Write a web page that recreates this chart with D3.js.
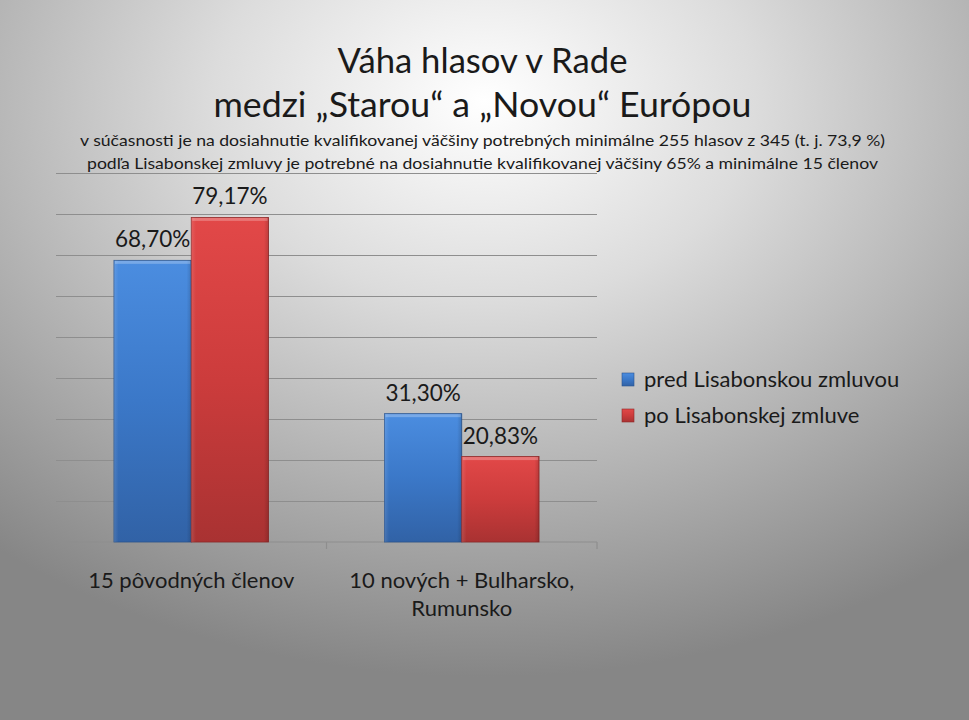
<!DOCTYPE html>
<html><head><meta charset="utf-8">
<script src="https://cdn.jsdelivr.net/npm/d3@7"></script>
<style>html,body{margin:0;padding:0;overflow:hidden;background:#999}</style>
</head><body>
<svg id="chart" width="969" height="720"></svg>
<script>
const categories = [["15 pôvodných členov"], ["10 nových + Bulharsko,", "Rumunsko"]];
const seriesNames = ["pred Lisabonskou zmluvou", "po Lisabonskej zmluve"];
const seriesPred = [68.70, 31.30];
const seriesPo = [79.17, 20.83];
const valueLabelsPred = ["68,70%", "31,30%"];
const valueLabelsPo = ["79,17%", "20,83%"];
const yTicks = [0, 10, 20, 30, 40, 50, 60, 70, 80, 90];
const titleLines = ["Váha hlasov v Rade", "medzi „Starou“ a „Novou“ Európou"];
const subtitleLines = [
  "v súčasnosti je na dosiahnutie kvalifikovanej väčšiny potrebných minimálne 255 hlasov z 345 (t. j. 73,9 %)",
  "podľa Lisabonskej zmluvy je potrebné na dosiahnutie kvalifikovanej väčšiny 65% a minimálne 15 členov"
];

const svg = d3.select("#chart");
const W = 969, H = 720;
const font = "Lato, 'Open Sans', sans-serif";
const defs = svg.append("defs");

const bg = defs.append("radialGradient").attr("id","bg")
  .attr("cx","50%").attr("cy","14%").attr("r","80%")
  .attr("gradientUnits","objectBoundingBox");
bg.append("stop").attr("offset","0%").attr("stop-color","#ffffff");
bg.append("stop").attr("offset","35%").attr("stop-color","#dcdcdc");
bg.append("stop").attr("offset","100%").attr("stop-color","#868686");
svg.append("rect").attr("width",W).attr("height",H).attr("fill","url(#bg)");

const colors = [
  {top:"#4b8de0", mid:"#3b78c8", bot:"#3162a6", edge:"#2b558f"},
  {top:"#e24848", mid:"#cc3c3c", bot:"#a93232", edge:"#8e2828"}
];
colors.forEach((c,i)=>{
  const g = defs.append("linearGradient").attr("id","bar"+i).attr("x1",0).attr("y1",0).attr("x2",0).attr("y2",1);
  g.append("stop").attr("offset","0%").attr("stop-color",c.top);
  g.append("stop").attr("offset","50%").attr("stop-color",c.mid);
  g.append("stop").attr("offset","100%").attr("stop-color",c.bot);
  const h = defs.append("linearGradient").attr("id","side"+i).attr("x1",0).attr("y1",0).attr("x2",1).attr("y2",0);
  h.append("stop").attr("offset","0%").attr("stop-color","#fff").attr("stop-opacity",0.12);
  h.append("stop").attr("offset","6%").attr("stop-color","#fff").attr("stop-opacity",0);
  h.append("stop").attr("offset","94%").attr("stop-color","#000").attr("stop-opacity",0);
  h.append("stop").attr("offset","100%").attr("stop-color","#000").attr("stop-opacity",0.15);
});

const plot = {left:56, right:597, top:173, bottom:542};
const y = d3.scaleLinear().domain([0,90]).range([plot.bottom, plot.top]);
const x0 = d3.scaleBand().domain(d3.range(categories.length)).range([plot.left, plot.right]).paddingInner(0).paddingOuter(0);
const groupW = x0.bandwidth()*2/3.5;
const x1 = d3.scaleBand().domain([0,1]).range([0, groupW]);

// gridlines
const yAxis = d3.axisLeft(y).tickValues(yTicks.slice(1)).tickSize(-(plot.right-plot.left)).tickFormat("");
const ga = svg.append("g").attr("transform",`translate(${plot.left},0)`).call(yAxis);
ga.select(".domain").remove();
ga.selectAll(".tick line").attr("stroke","#8e8e8e").attr("stroke-width",1.2);

// x axis
const xAxisG = svg.append("g");
xAxisG.append("line").attr("x1",plot.left).attr("x2",plot.right).attr("y1",plot.bottom).attr("y2",plot.bottom)
  .attr("stroke","#8e8e8e").attr("stroke-width",1.2);
const tickXs = x0.domain().map(d=>x0(d)).concat([plot.right]);
xAxisG.selectAll("line.t").data(tickXs).join("line").attr("class","t")
  .attr("x1",d=>d).attr("x2",d=>d).attr("y1",plot.bottom).attr("y2",plot.bottom+7)
  .attr("stroke","#8e8e8e").attr("stroke-width",1.2);

const series = [seriesPred, seriesPo];
const labels = [valueLabelsPred, valueLabelsPo];
series.forEach((vals,si)=>{
  const g = svg.append("g");
  vals.forEach((v,ci)=>{
    const bx = x0(ci) + (x0.bandwidth()-groupW)/2 + x1(si);
    const bw = x1.bandwidth();
    const by = y(v);
    const bh = y(0)-y(v);
    g.append("rect").attr("x",bx).attr("y",by).attr("width",bw).attr("height",bh)
      .attr("fill",`url(#bar${si})`).attr("stroke",colors[si].edge).attr("stroke-width",0.8);
    g.append("rect").attr("x",bx).attr("y",by).attr("width",bw).attr("height",bh)
      .attr("fill",`url(#side${si})`);
    g.append("rect").attr("x",bx+1).attr("y",by+0.5).attr("width",bw-2).attr("height",3)
      .attr("fill","#fff").attr("opacity",0.25);
    g.append("text").attr("x",bx+bw/2).attr("y",by-13).attr("text-anchor","middle")
      .attr("font-family",font).attr("font-size",22.5).attr("fill","#1a1a1a").text(labels[si][ci]);
  });
});

// category labels
categories.forEach((lines,ci)=>{
  const cx = x0(ci)+x0.bandwidth()/2;
  lines.forEach((t,li)=>{
    svg.append("text").attr("x",cx).attr("y",588+li*28).attr("text-anchor","middle")
      .attr("font-family",font).attr("font-size",22).attr("fill","#1a1a1a").text(t);
  });
});

// legend
const legY = [380, 416];
seriesNames.forEach((n,i)=>{
  svg.append("rect").attr("x",622).attr("y",legY[i]-7).attr("width",12).attr("height",13)
    .attr("fill",`url(#bar${i})`).attr("stroke",colors[i].edge).attr("stroke-width",0.6);
  svg.append("text").attr("x",644).attr("y",legY[i]+7).attr("font-family",font).attr("font-size",22)
    .attr("fill","#1a1a1a").text(n);
});

// titles
const tl = [{y:73, w:290, s:34},{y:117, w:538, s:34}];
titleLines.forEach((t,i)=>{
  svg.append("text").attr("x",W/2-2).attr("y",tl[i].y).attr("text-anchor","middle")
    .attr("font-family",font).attr("font-size",tl[i].s).attr("fill","#1a1a1a")
    .attr("textLength",tl[i].w).attr("lengthAdjust","spacingAndGlyphs").text(t);
});
const sl = [{x:80, y:146, w:805},{x:87, y:169, w:791}];
subtitleLines.forEach((t,i)=>{
  svg.append("text").attr("x",sl[i].x).attr("y",sl[i].y)
    .attr("font-family",font).attr("font-size",16).attr("fill","#1a1a1a")
    .attr("textLength",sl[i].w).attr("lengthAdjust","spacingAndGlyphs").text(t);
});
</script>
</body></html>
